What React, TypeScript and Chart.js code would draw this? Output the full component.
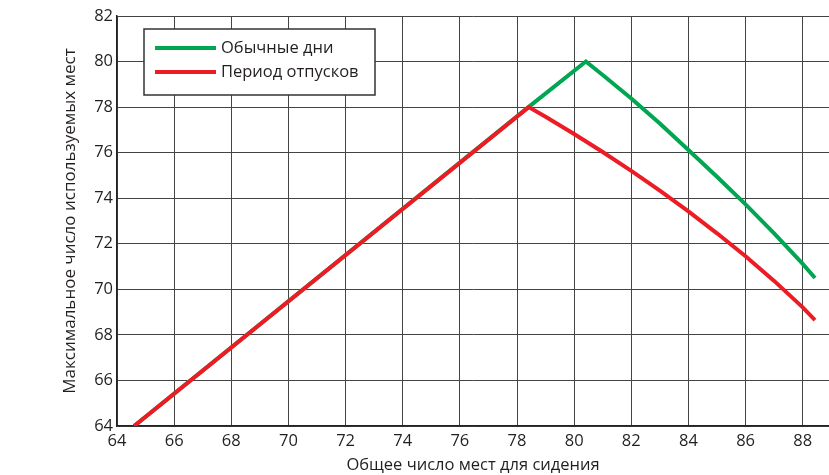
import React, { useEffect, useRef } from "react";
import { Chart, registerables } from "chart.js";

Chart.register(...registerables);

const xGreen = [64.6, 78.4, 80.41, 81, 82, 83, 84, 85, 86, 87, 88, 88.43];
const yGreen = [64, 78, 80, 79.41, 78.38, 77.28, 76.12, 74.94, 73.73, 72.46, 71.12, 70.5];
const xRed = [64.6, 78.41, 79, 80, 81, 82, 83, 84, 85, 86, 87, 88, 88.43];
const yRed = [64, 78, 77.575, 76.82, 76.03, 75.2, 74.33, 73.42, 72.46, 71.45, 70.37, 69.21, 68.65];
const seriesNames = ["Обычные дни", "Период отпусков"];
const seriesColors = ["#00a651", "#ed1c24"];
const xTitle = "Общее число мест для сидения";
const yTitle = "Максимальное число используемых мест";

const FONT = "'Open Sans', 'Noto Sans', sans-serif";
const INK = "#231f20";

const legendPlugin = {
  id: "boxLegend",
  afterDraw(chart: any) {
    const ctx = chart.ctx;
    const x0 = 144, y0 = 29, w = 231, h = 66;
    ctx.save();
    ctx.fillStyle = "#fff";
    ctx.fillRect(x0, y0, w, h);
    ctx.strokeStyle = "#333";
    ctx.lineWidth = 1.5;
    ctx.strokeRect(x0, y0, w, h);
    const rows = [48, 72];
    seriesNames.forEach((name, i) => {
      ctx.strokeStyle = seriesColors[i];
      ctx.lineWidth = 4;
      ctx.beginPath();
      ctx.moveTo(155, rows[i]);
      ctx.lineTo(216, rows[i]);
      ctx.stroke();
      ctx.fillStyle = INK;
      ctx.font = `16.5px ${FONT}`;
      ctx.textBaseline = "middle";
      ctx.textAlign = "left";
      ctx.fillText(name, 221, rows[i] + 0.5);
    });
    ctx.restore();
  },
};

export default function App() {
  const ref = useRef<HTMLCanvasElement | null>(null);
  useEffect(() => {
    document.body.style.margin = "0";
    const toPts = (xs: number[], ys: number[]) => xs.map((x, i) => ({ x, y: ys[i] }));
    const chart = new Chart(ref.current!, {
      type: "line",
      data: {
        datasets: [
          {
            label: seriesNames[0],
            data: toPts(xGreen, yGreen),
            borderColor: seriesColors[0],
            borderWidth: 4,
            pointRadius: 0,
            tension: 0,
            order: 2,
          },
          {
            label: seriesNames[1],
            data: toPts(xRed, yRed),
            borderColor: seriesColors[1],
            borderWidth: 4,
            pointRadius: 0,
            tension: 0,
            order: 1,
          },
        ],
      },
      options: {
        animation: false,
        responsive: false,
        layout: { padding: { top: 16, right: 0, left: 0, bottom: 0 } },
        plugins: { legend: { display: false }, tooltip: { enabled: false } },
        scales: {
          x: {
            type: "linear",
            min: 64,
            max: 88.92,
            afterFit: (s: any) => { s.height = 49; },
            ticks: {
              stepSize: 2,
              includeBounds: false,
              maxRotation: 0,
              color: INK,
              font: { family: FONT, size: 16.5 },
              padding: 5,
            },
            grid: { color: "#444", lineWidth: 1, drawTicks: false },
            border: { color: "#222", width: 1.5 },
            title: {
              display: true,
              text: xTitle,
              color: INK,
              font: { family: FONT, size: 16.5 },
              padding: { top: 0, bottom: 0 },
            },
          },
          y: {
            min: 64,
            max: 82,
            afterFit: (s: any) => { s.width = 117; },
            ticks: {
              stepSize: 2,
              color: INK,
              font: { family: FONT, size: 16.5 },
              padding: 4,
            },
            grid: { color: "#444", lineWidth: 1, drawTicks: false },
            border: { color: "#222", width: 1.5 },
            title: {
              display: true,
              text: yTitle,
              color: INK,
              font: { family: FONT, size: 17 },
              padding: { top: 60, bottom: 0 },
            },
          },
        },
      },
      plugins: [legendPlugin],
    });
    return () => chart.destroy();
  }, []);
  return (
    <div style={{ width: 829, height: 475 }}>
      <canvas ref={ref} width={829} height={475} />
    </div>
  );
}
